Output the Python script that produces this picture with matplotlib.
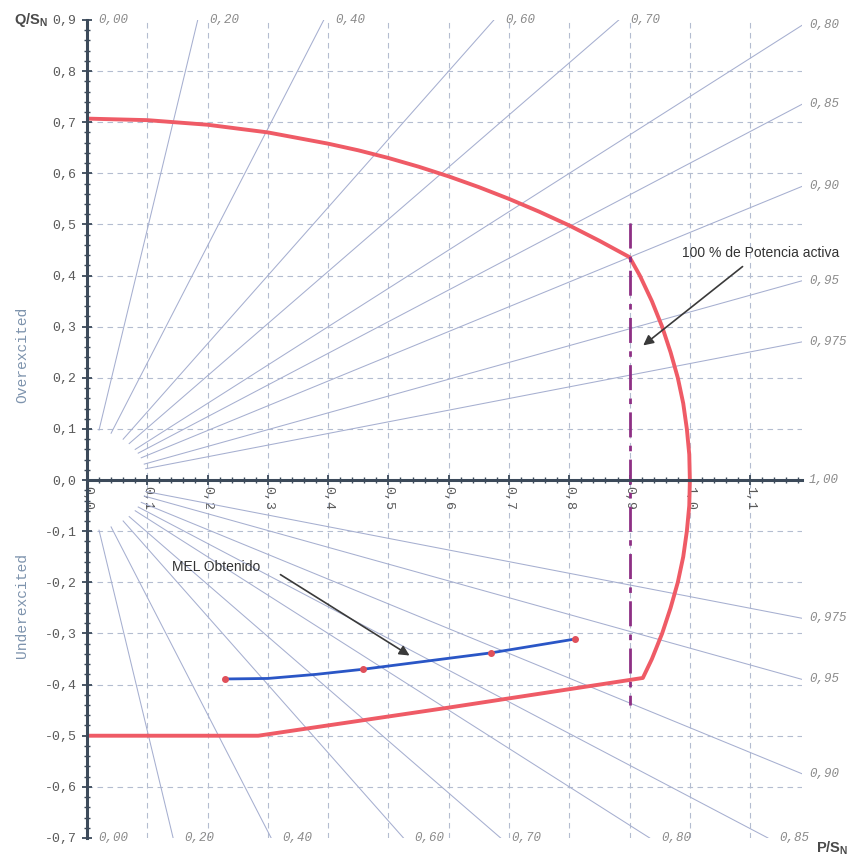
import numpy as np
import matplotlib
matplotlib.use('Agg')
import matplotlib.pyplot as plt
from matplotlib.ticker import MultipleLocator

# capability curve (P/Sn, Q/Sn)
p_cap = [0.00, 0.10, 0.20, 0.30, 0.40, 0.45, 0.50, 0.55, 0.60, 0.65, 0.70, 0.75, 0.80, 0.85, 0.90,
         0.917, 0.937, 0.954, 0.968, 0.980, 0.989, 0.995, 0.999, 1.000,
         0.999, 0.995, 0.989, 0.980, 0.968, 0.954, 0.937, 0.922,
         0.900, 0.600, 0.284, 0.000]
q_cap = [0.707, 0.704, 0.695, 0.680, 0.658, 0.645, 0.630, 0.613, 0.594, 0.573, 0.550, 0.525, 0.498, 0.468, 0.436,
         0.40, 0.35, 0.30, 0.25, 0.20, 0.15, 0.10, 0.05, 0.00,
         -0.05, -0.10, -0.15, -0.20, -0.25, -0.30, -0.35, -0.387,
         -0.391, -0.445, -0.500, -0.500]

# MEL obtenido
p_mel = [0.229, 0.300, 0.380, 0.458, 0.670, 0.809]
q_mel = [-0.389, -0.388, -0.380, -0.370, -0.338, -0.311]

# 100 % active power line
p_full = 0.9
q_full = [0.503, -0.44]

# power factor rays
pf_values = [0.20, 0.40, 0.60, 0.70, 0.80, 0.85, 0.90, 0.95, 0.975]
pf_labels = ['0,20', '0,40', '0,60', '0,70', '0,80', '0,85', '0,90', '0,95', '0,975']

x_ticks = [0.0, 0.1, 0.2, 0.3, 0.4, 0.5, 0.6, 0.7, 0.8, 0.9, 1.0, 1.1]
y_ticks = [-0.7, -0.6, -0.5, -0.4, -0.3, -0.2, -0.1, 0.0, 0.1, 0.2, 0.3, 0.4, 0.5, 0.6, 0.7, 0.8, 0.9]

plt.rcParams['mathtext.fontset'] = 'custom'
plt.rcParams['mathtext.bf'] = 'Liberation Sans:bold'
plt.rcParams['mathtext.rm'] = 'Liberation Sans'

xmax, ymin, ymax = 1.186, -0.7, 0.9
axis_col = '#3c4a5a'
grid_col = '#b4bdd0'
ray_col = '#a6afd0'
mono = 'Liberation Mono'

fig = plt.figure(figsize=(8.62, 8.63), dpi=100)
ax = fig.add_axes([0.1009, 0.0290, 0.8295, 0.9479])
ax.set_xlim(0, xmax)
ax.set_ylim(ymin, ymax)

for s in ['top', 'right']:
    ax.spines[s].set_visible(False)
ax.spines['bottom'].set_position(('data', 0))
ax.spines['left'].set_position(('data', 0))
for s in ['left', 'bottom']:
    ax.spines[s].set_linewidth(2.2)
    ax.spines[s].set_color(axis_col)
    ax.spines[s].set_zorder(5)

# grid
for x in x_ticks[1:]:
    ax.axvline(x, color=grid_col, lw=0.8, ls=(0, (5, 4)), zorder=1)
for y in y_ticks[1:-1]:
    if y != 0:
        ax.axhline(y, color=grid_col, lw=0.8, ls=(0, (5, 4)), zorder=1)

# ticks
fmt = lambda v: f'{v:.1f}'.replace('.', ',')
ax.set_xticks(x_ticks)
ax.set_xticklabels([fmt(v) for v in x_ticks], rotation=270, fontfamily=mono,
                   fontsize=9.5, color='#5a5a5a')
ax.set_yticks(y_ticks)
ax.set_yticklabels([fmt(v) for v in y_ticks], fontfamily=mono, fontsize=9.5, color='#5a5a5a')
ax.xaxis.set_minor_locator(MultipleLocator(0.02))
ax.yaxis.set_minor_locator(MultipleLocator(0.02))
ax.tick_params(which='major', direction='inout', length=7, width=1.3, color=axis_col)
ax.tick_params(which='minor', direction='inout', length=5, width=1.0, color=axis_col)
ax.tick_params(axis='x', which='major', pad=1)
ax.tick_params(axis='y', which='major', pad=4)

# power factor rays
r0 = 0.1
lab_kw = dict(textcoords='offset points', fontfamily=mono, fontstyle='italic',
              fontsize=9, color='#8a8a8a', va='center', ha='left', annotation_clip=False)
for pf, lab in zip(pf_values, pf_labels):
    phi = np.arccos(pf)
    c, s = np.cos(phi), np.sin(phi)
    for sign, edge in ((1, ymax), (-1, -ymin)):
        t_right = xmax / c
        t_edge = edge / s
        t = min(t_right, t_edge)
        ax.plot([r0 * c, t * c], [sign * r0 * s, sign * t * s], color=ray_col, lw=0.75, zorder=2)
        off = 5 if t_right < t_edge else 8
        ax.annotate(lab, (t * c, sign * t * s), xytext=(off, 0), **lab_kw)
ax.annotate('0,00', (0, ymax), xytext=(8, 0), **lab_kw)
ax.annotate('0,00', (0, ymin), xytext=(8, 0), **lab_kw)
ax.annotate('1,00', (xmax, 0), xytext=(5, 0), **lab_kw)

# curves
ax.plot(p_cap, q_cap, color='#ef5b66', lw=2.8, zorder=4, solid_joinstyle='round')
ax.plot([p_full, p_full], q_full, color='#8e2f84', lw=2.0, ls=(0, (9, 3, 2, 3)), zorder=4)
ax.plot(p_mel, q_mel, color='#2a56c6', lw=2.0, zorder=4, marker='o', ms=4,
        markerfacecolor='#e0505a', markeredgecolor='#e0505a', markevery=[0, 3, 4, 5])

# annotations
arrow = dict(arrowstyle='-|>', color='#3a3a3a', lw=1.2, mutation_scale=15)
ax.annotate('', xy=(0.919, 0.260), xytext=(1.091, 0.421), arrowprops=arrow, zorder=6)
ax.text(0.987, 0.445, '100 % de Potencia activa', fontfamily='Liberation Sans',
        fontsize=10, color='#333333', va='center', ha='left')
ax.annotate('', xy=(0.539, -0.346), xytext=(0.317, -0.182), arrowprops=arrow, zorder=6)
ax.text(0.141, -0.170, 'MEL Obtenido', fontfamily='Liberation Sans',
        fontsize=10, color='#333333', va='center', ha='left')

# side labels
fig.text(22 / 862, 1 - 355 / 863, 'Overexcited', rotation=90, fontfamily=mono,
         fontsize=10.5, color='#7d93ad', ha='center', va='center')
fig.text(22 / 862, 1 - 605 / 863, 'Underexcited', rotation=90, fontfamily=mono,
         fontsize=10.5, color='#7d93ad', ha='center', va='center')
fig.text(14 / 862, 1 - 20 / 863, r'Q/S$_\mathbf{N}$', fontfamily='Liberation Sans',
         fontweight='bold', fontsize=10.5, color='#4a4a4a', ha='left', va='center')
fig.text(816 / 862, 1 - 848 / 863, r'P/S$_\mathbf{N}$', fontfamily='Liberation Sans',
         fontweight='bold', fontsize=10.5, color='#4a4a4a', ha='left', va='center')

fig.savefig('out.png', dpi=100)
